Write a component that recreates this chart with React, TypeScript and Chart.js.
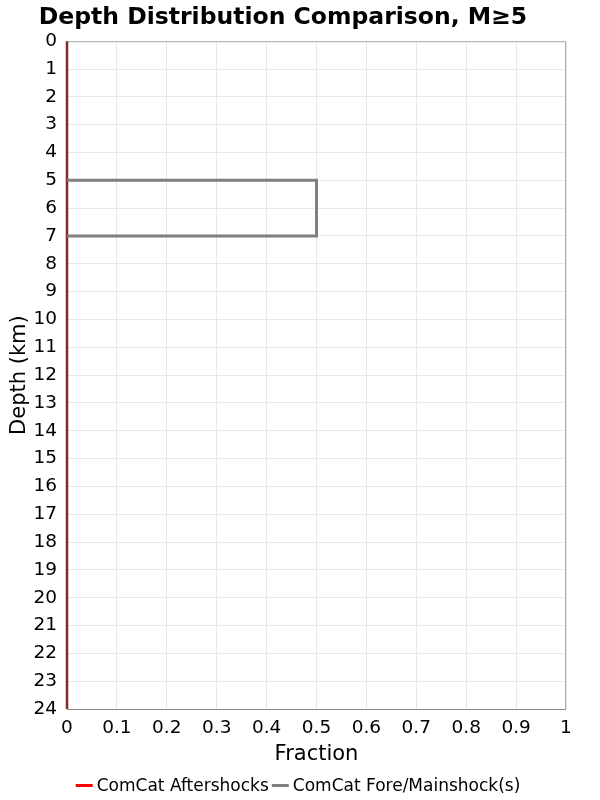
import React, { useEffect, useRef } from "react";
import { Chart, registerables } from "chart.js";

Chart.register(...registerables);

const TITLE = "Depth Distribution Comparison, M≥5";
const aftershockFractions = [0, 0];
const aftershockDepths = [0, 24];
const mainshockBinEdges = [5, 7];
const mainshockFractions = [0.5];
const depthMin = 0;
const depthMax = 24;
const legendNames = ["ComCat Aftershocks", "ComCat Fore/Mainshock(s)"];
const legendColors = ["#ff0000", "#808080"];

const FONT = "'DejaVu Sans', sans-serif";

function stepOutline(edges: number[], fr: number[]) {
  const pts: { x: number; y: number }[] = [];
  pts.push({ x: 0, y: edges[0] });
  for (let i = 0; i < fr.length; i++) {
    pts.push({ x: fr[i], y: edges[i] });
    pts.push({ x: fr[i], y: edges[i + 1] });
  }
  pts.push({ x: 0, y: edges[edges.length - 1] });
  return pts;
}

const frame = {
  id: "frame",
  beforeDatasetsDraw(chart: any) {
    const { ctx, chartArea } = chart;
    ctx.save();
    ctx.lineWidth = 1;
    ctx.strokeStyle = "#aaaaaa";
    ctx.beginPath();
    ctx.moveTo(chartArea.left, chartArea.top + 0.5);
    ctx.lineTo(chartArea.right - 0.5, chartArea.top + 0.5);
    ctx.lineTo(chartArea.right - 0.5, chartArea.bottom);
    ctx.stroke();
    ctx.strokeStyle = "#888888";
    ctx.beginPath();
    ctx.moveTo(chartArea.left, chartArea.bottom + 0.5);
    ctx.lineTo(chartArea.right, chartArea.bottom + 0.5);
    ctx.stroke();
    ctx.restore();
  },
  afterDraw(chart: any) {
    const { ctx } = chart;
    ctx.save();
    ctx.font = `17px ${FONT}`;
    ctx.textBaseline = "middle";
    ctx.textAlign = "left";
    const sw = 17, gap = 4, itemGap = 3;
    const widths = legendNames.map((n) => ctx.measureText(n).width);
    let total = 0;
    widths.forEach((w, i) => { total += sw + gap + w + (i < widths.length - 1 ? itemGap : 0); });
    let x = 298 - total / 2;
    const y = 785.5;
    legendNames.forEach((n, i) => {
      ctx.fillStyle = legendColors[i];
      ctx.fillRect(x, y - 1.5, sw, 3);
      x += sw + gap;
      ctx.fillStyle = "#000";
      ctx.fillText(n, x, y + 1);
      x += widths[i] + itemGap;
    });
    ctx.restore();
  },
};

export default function App() {
  const ref = useRef<HTMLCanvasElement>(null);
  useEffect(() => {
    document.body.style.margin = "0";
    const chart = new Chart(ref.current!, {
      type: "scatter",
      data: {
        datasets: [
          {
            label: legendNames[1],
            data: stepOutline(mainshockBinEdges, mainshockFractions),
            showLine: true,
            borderColor: "#808080",
            backgroundColor: "#808080",
            borderWidth: 3,
            pointRadius: 0,
            clip: false,
          },
          {
            label: legendNames[0],
            data: aftershockDepths.map((d, i) => ({ x: aftershockFractions[i], y: d })),
            showLine: true,
            borderColor: "#802a2a",
            backgroundColor: "#ff0000",
            borderWidth: 2.5,
            pointRadius: 0,
            clip: false,
          },
        ],
      },
      options: {
        responsive: false,
        animation: false,
        layout: { padding: { left: 0, right: 34, top: 0, bottom: 33 } },
        plugins: {
          title: {
            display: true,
            text: TITLE,
            color: "#000",
            font: { family: FONT, size: 23.5, weight: "bold" },
            padding: { top: 4, bottom: 9 },
          },
          legend: { display: false },
          tooltip: { enabled: false },
        },
        scales: {
          x: {
            type: "linear",
            min: 0,
            max: 1,
            grid: { color: "#e8e8e8", drawTicks: false },
            border: { display: false },
            afterFit: (s: any) => { s.height = 58; },
            ticks: {
              stepSize: 0.1,
              color: "#000",
              font: { family: FONT, size: 18.5 },
              padding: 8,
              callback: (v: any) => String(Math.round(Number(v) * 10) / 10),
            },
            title: {
              display: true,
              text: "Fraction",
              color: "#000",
              font: { family: FONT, size: 21 },
              padding: { top: 0, bottom: 0 },
            },
          },
          y: {
            type: "linear",
            reverse: true,
            min: depthMin,
            max: depthMax,
            grid: { color: "#e8e8e8", drawTicks: false },
            border: { display: false },
            afterFit: (s: any) => { s.width = 67; },
            ticks: {
              stepSize: 1,
              color: "#000",
              font: { family: FONT, size: 18.5 },
              padding: 10,
              autoSkip: false,
            },
            title: {
              display: true,
              text: "Depth (km)",
              color: "#000",
              font: { family: FONT, size: 21 },
              padding: { top: 7, bottom: 0 },
            },
          },
        },
      },
      plugins: [frame],
    } as any);
    return () => chart.destroy();
  }, []);
  return <canvas ref={ref} width={600} height={800} style={{ display: "block" }} />;
}
